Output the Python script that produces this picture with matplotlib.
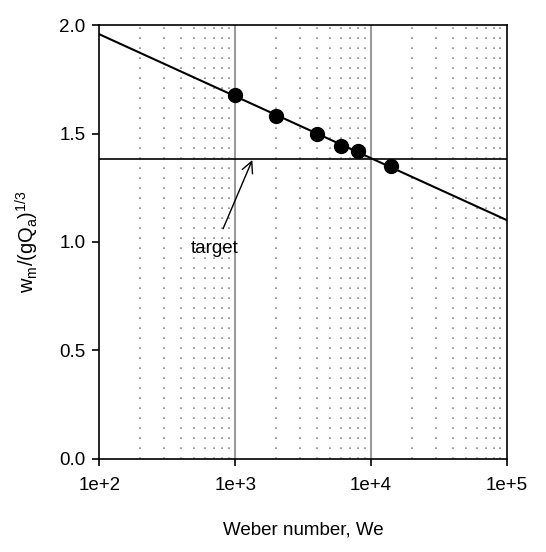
import matplotlib
matplotlib.use("Agg")
import matplotlib.pyplot as plt
import numpy as np

plt.rcParams['font.family'] = ['Liberation Sans', 'DejaVu Sans']
plt.rcParams['mathtext.fontset'] = 'custom'
plt.rcParams['mathtext.rm'] = 'Liberation Sans'
plt.rcParams['mathtext.it'] = 'Liberation Sans:italic'

# measured points
we = [1000, 2000, 4000, 6000, 8000, 14000]
wm = [1.677, 1.581, 1.499, 1.444, 1.418, 1.352]

# fitted line ends
fit_we = [1e2, 1e5]
fit_wm = [1.957, 1.101]

target = 1.381
xticks = [1e2, 1e3, 1e4, 1e5]
xticklabels = ['1e+2', '1e+3', '1e+4', '1e+5']
yticks = [0.0, 0.5, 1.0, 1.5, 2.0]

fig = plt.figure(figsize=(5.46, 5.52), dpi=100)
ax = fig.add_axes([0.1822, 0.1685, 0.7458, 0.7862])

# grid: minor dotted verticals, major solid grey
for dec in [1e2, 1e3, 1e4]:
    for k in range(2, 10):
        ax.axvline(dec * k, color='#8a8a8a', lw=1.2, ls=(0, (1, 5)), zorder=1)
for xv in [1e3, 1e4]:
    ax.axvline(xv, color='#9a9a9a', lw=1.5, zorder=1)

ax.axhline(target, color='black', lw=1.2, zorder=2)
ax.plot(fit_we, fit_wm, color='black', lw=1.5, zorder=3)
ax.plot(we, wm, 'o', color='black', ms=10, zorder=4)

ax.annotate('target', xy=(1337, 1.378), xytext=(703, 0.968),
            ha='center', va='center', fontsize=13.5,
            arrowprops=dict(arrowstyle='->', color='black', lw=1.0,
                            shrinkA=7, shrinkB=0, mutation_scale=20))

ax.set_xscale('log')
ax.set_xlim(1e2, 1e5)
ax.set_ylim(0, 2.0)
ax.set_xticks(xticks)
ax.set_xticklabels(xticklabels)
ax.xaxis.set_minor_locator(matplotlib.ticker.NullLocator())
ax.set_yticks(yticks)
ax.set_yticklabels(['0.0', '0.5', '1.0', '1.5', '2.0'])
ax.tick_params(direction='out', length=5, width=1.2, labelsize=13.5, pad=5)
ax.tick_params(axis='x', pad=8)
for s in ax.spines.values():
    s.set_linewidth(1.2)

ax.set_xlabel('Weber number, We', fontsize=13.5, labelpad=20)
ax.set_ylabel(r'w$_\mathrm{m}$/(gQ$_\mathrm{a}$)$^{1/3}$', fontsize=14.5, labelpad=13)

fig.savefig('out.png', dpi=100)
